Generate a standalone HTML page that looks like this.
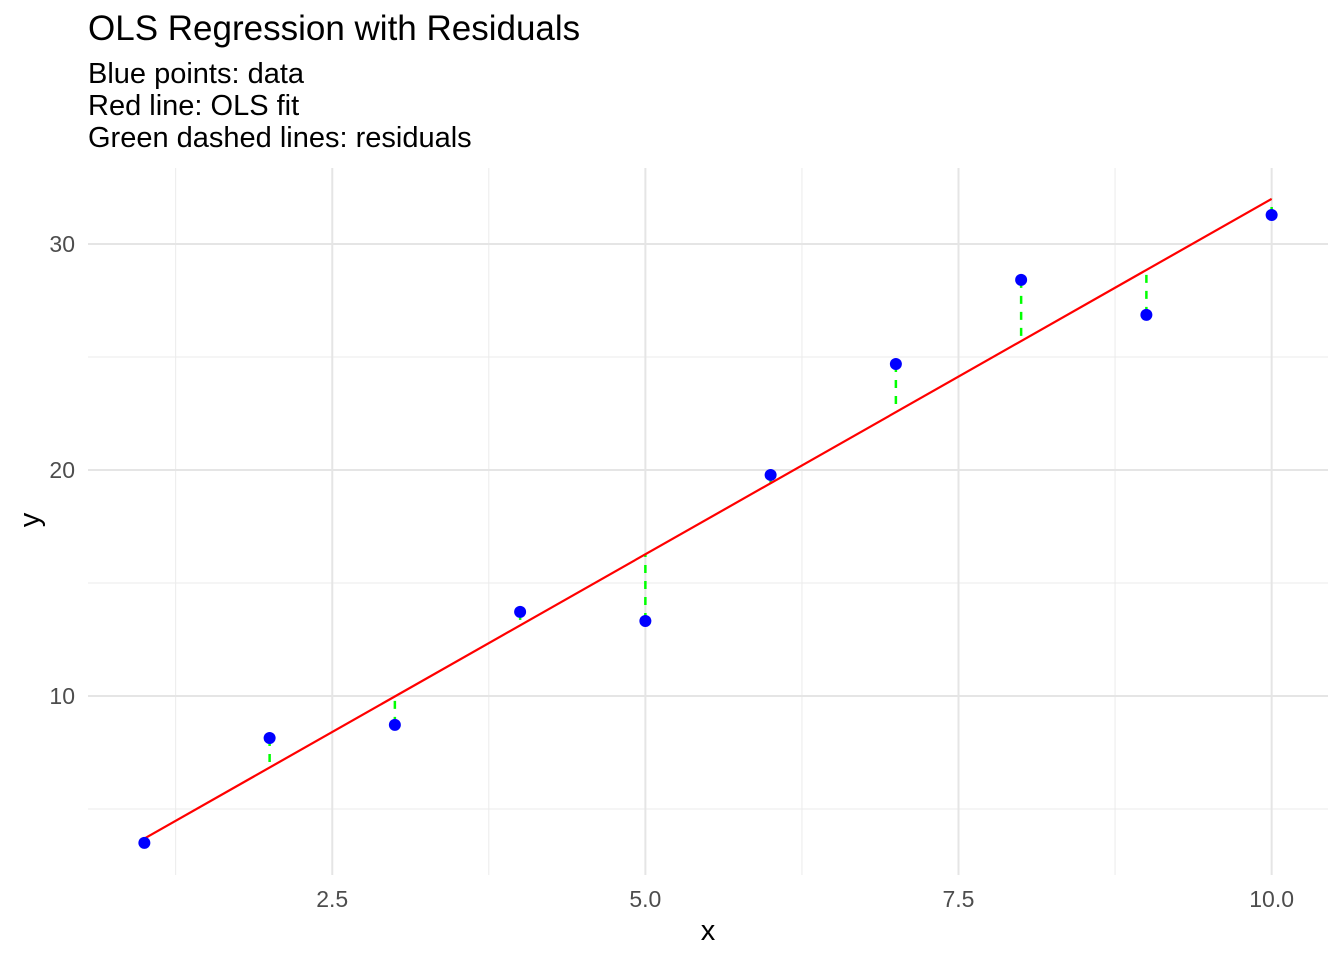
<!DOCTYPE html>
<html><head><meta charset="utf-8"><style>
body{margin:0;background:#fff;}
svg text{font-family:"Liberation Sans",Arial,sans-serif;}
</style></head><body>
<svg id="chart" width="1344" height="960" xmlns="http://www.w3.org/2000/svg">
<rect width="1344" height="960" fill="#fff"/>
<text x="88" y="40" font-size="35" fill="#000">OLS Regression with Residuals</text>
<text x="88" y="83" font-size="29" fill="#000">Blue points: data</text>
<text x="88" y="115" font-size="29" fill="#000">Red line: OLS fit</text>
<text x="88" y="147" font-size="29" fill="#000">Green dashed lines: residuals</text>
<g id="grid"></g>
<g id="marks"></g>
<text x="708" y="940" font-size="29" text-anchor="middle" fill="#000">x</text>
<text x="39" y="520" font-size="29" text-anchor="middle" fill="#000" transform="rotate(-90 39 520)">y</text>
</svg>
<script>
const xs = [1,2,3,4,5,6,7,8,9,10];
const ys = [3.5,8.14,8.72,13.72,13.32,19.78,24.69,28.41,26.86,31.28];
const xMajor = [2.5,5.0,7.5,10.0];
const xMajorLabels = ["2.5","5.0","7.5","10.0"];
const xMinor = [1.25,3.75,6.25,8.75];
const yMajor = [10,20,30];
const yMajorLabels = ["10","20","30"];
const yMinor = [5,15,25];

const L=88,R=1328,T=168,B=875;
const X0=0.55,X1=10.45,Y0=2.08,Y1=33.36;
const sx=v=>L+(v-X0)/(X1-X0)*(R-L);
const sy=v=>B-(v-Y0)/(Y1-Y0)*(B-T);
const NS="http://www.w3.org/2000/svg";
const grid=document.getElementById('grid'), marks=document.getElementById('marks');
function mk(tag,attrs,parent){const e=document.createElementNS(NS,tag);for(const k in attrs)e.setAttribute(k,attrs[k]);parent.appendChild(e);return e;}

xMinor.forEach(v=>{const e=mk('line',{x1:sx(v),x2:sx(v),y1:T,y2:B,stroke:'#ebebeb','stroke-width':1},grid);

});
yMinor.forEach(v=>{const e=mk('line',{x1:L,x2:R,y1:sy(v),y2:sy(v),stroke:'#ebebeb','stroke-width':1},grid);

});
xMajor.forEach((v,i)=>{const e=mk('line',{x1:sx(v),x2:sx(v),y1:T,y2:B,stroke:'#e5e5e5','stroke-width':2},grid);


const t=mk('text',{x:sx(v),y:907,'font-size':23,'text-anchor':'middle',fill:'#4d4d4d'},grid);t.textContent=xMajorLabels[i];

});
yMajor.forEach((v,i)=>{const e=mk('line',{x1:L,x2:R,y1:sy(v),y2:sy(v),stroke:'#e5e5e5','stroke-width':2},grid);


const t=mk('text',{x:75,y:sy(v)+8,'font-size':23,'text-anchor':'end',fill:'#4d4d4d'},grid);t.textContent=yMajorLabels[i];

});

const n=xs.length, mx=xs.reduce((a,b)=>a+b)/n, my=ys.reduce((a,b)=>a+b)/n;
let sxy=0,sxx=0;xs.forEach((x,i)=>{sxy+=(x-mx)*(ys[i]-my);sxx+=(x-mx)**2;});
const b1=sxy/sxx,b0=my-b1*mx;
const fit=x=>b0+b1*x;

xs.forEach((x,i)=>{const e=mk('line',{x1:sx(x),x2:sx(x),y1:sy(ys[i]),y2:sy(fit(x)),stroke:'#00ff00','stroke-width':2.5,'stroke-dasharray':'8 8'},marks);

});
const xmin=Math.min(...xs),xmax=Math.max(...xs);
const fl=mk('line',{x1:sx(xmin),y1:sy(fit(xmin)),x2:sx(xmax),y2:sy(fit(xmax)),stroke:'#ff0000','stroke-width':2.2},marks);


xs.forEach((x,i)=>{const c=mk('circle',{cx:sx(x),cy:sy(ys[i]),r:6,fill:'#0000ff'},marks);

});
</script>
</body></html>
